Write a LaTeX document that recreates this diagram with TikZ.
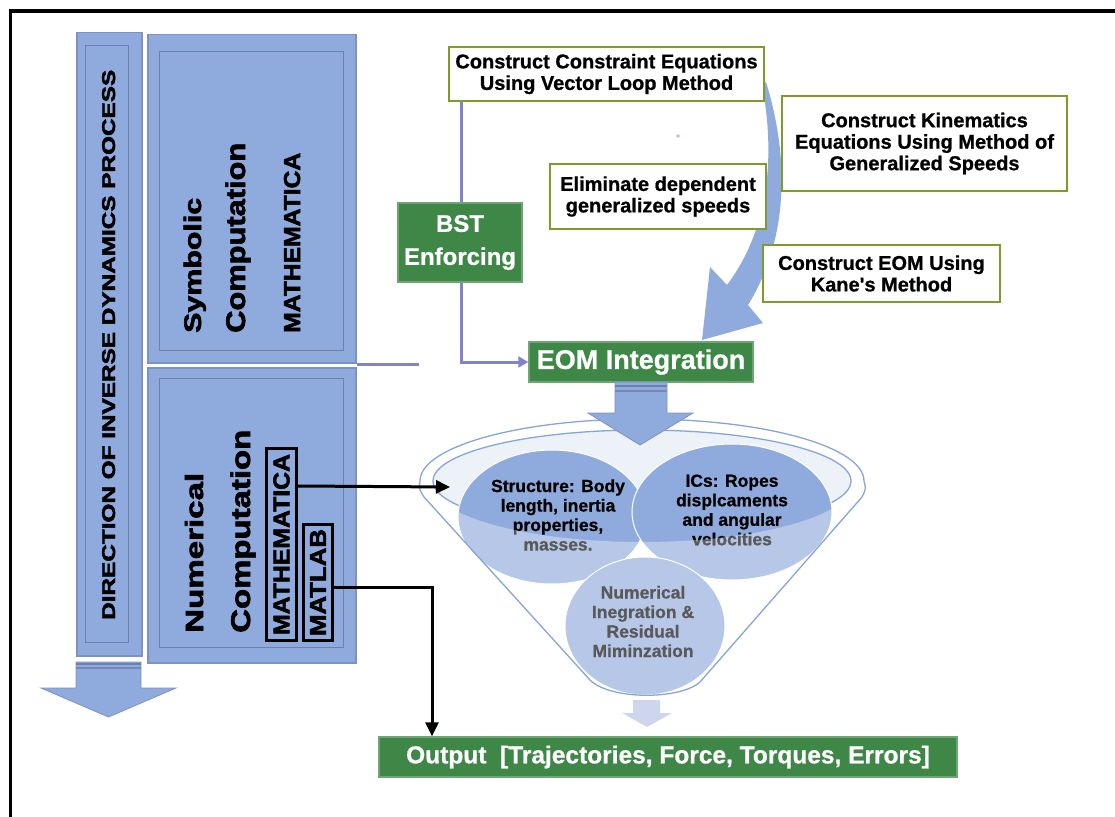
\documentclass[tikz,border=0pt]{standalone}
\usepackage{fontspec}
\setmainfont{Liberation Sans}[Ligatures=TeXOff, BoldFeatures={FakeBold=0.8}]
\newfontfamily\heavyfont{Liberation Sans}[Ligatures=TeXOff, BoldFeatures={FakeBold=2.2}]
\usepackage{graphicx}
\usetikzlibrary{arrows.meta,calc}
\definecolor{panel}{RGB}{143,170,220}
\definecolor{panelborder}{RGB}{125,145,195}
\definecolor{panelinner}{RGB}{110,128,172}
\definecolor{boxgreen}{RGB}{62,135,71}
\definecolor{olive}{RGB}{128,155,40}
\definecolor{lav}{RGB}{130,130,205}
\definecolor{rimfill}{RGB}{237,241,248}
\definecolor{lightarrow}{RGB}{205,214,236}
\definecolor{rimline}{RGB}{135,165,218}
\tikzset{
  stepbox/.style={draw=olive, line width=2pt, fill=white, align=center, inner sep=0pt,
    font=\fontsize{20}{21.5}\selectfont\bfseries},
  greenbox/.style={fill=boxgreen, draw=boxgreen!75!white, line width=1.5pt, text=white, align=center, inner sep=0pt},
  panelbox/.style={fill=panel, draw=panelborder, line width=1.5pt, anchor=north west, inner sep=0pt},
  innerbox/.style={draw=panelinner, line width=1.2pt, anchor=north west, inner sep=0pt},
  vtext/.style={rotate=90, anchor=base west, inner sep=0pt, font=\heavyfont\bfseries},
  toolbox/.style={draw=black, line width=3pt, rotate=90, inner sep=0pt, font=\heavyfont\bfseries},
  pline/.style={draw=lav, line width=3pt},
  bline/.style={draw=black, line width=3pt},
  circ/.style={fill=panel, draw=white, line width=1pt},
  ctext/.style={align=center, inner sep=0pt, font=\fontsize{17.5}{19.5}\selectfont\bfseries},
  blockarrow/.style={fill=panel, draw=panelborder, line width=0.8pt},
  rim/.style={draw=rimline, line width=1.3pt}
}
\begin{document}
\begin{tikzpicture}[x=1pt,y=-1pt]
\useasboundingbox (0,0) rectangle (1115,816);
% frame
\draw[line width=3.5pt] (10.5,830) -- (10.5,11) -- (1130,11);

% left panels
\node[panelbox, minimum width=65, minimum height=623] (dirpanel) at (76,32) {};
\node[innerbox, minimum width=43, minimum height=597] (dirinner) at (85,45) {};
\node[panelbox, minimum width=208, minimum height=328] (symb) at (147,34) {};
\node[innerbox, minimum width=184, minimum height=299] (symbinner) at (159,51) {};
\node[panelbox, minimum width=208, minimum height=295] (numer) at (147,367) {};
\node[innerbox, minimum width=184, minimum height=269] (numerinner) at (159,378) {};

% direction arrow
\path[blockarrow] (76,662) -- (141,662) -- (141,688) -- (176,688) -- (108.5,717) -- (41,688) -- (76,688) -- cycle;
\fill[panelinner] (76,662.5) rectangle (141,664.5);
\fill[panelinner!80!panel] (76,667) rectangle (141,669);

% vertical texts
\node[vtext] (dirtext) at (115,620) {\resizebox{550pt}{\height}{\fontsize{18.5}{18.5}\selectfont DIRECTION OF INVERSE DYNAMICS PROCESS}};
\node[vtext] (symbolic) at (201,333) {\resizebox{135pt}{\height}{\fontsize{24}{24}\selectfont Symbolic}};
\node[vtext] (compsym) at (245,333) {\resizebox{190pt}{\height}{\fontsize{27}{27}\selectfont Computation}};
\node[vtext] (mathsym) at (300,333) {\resizebox{180pt}{\height}{\fontsize{23}{23}\selectfont MATHEMATICA}};
\node[vtext] (numerical) at (203,633) {\resizebox{160pt}{\height}{\fontsize{25}{25}\selectfont Numerical}};
\node[vtext] (compnum) at (250,633) {\resizebox{203pt}{\height}{\fontsize{27}{27}\selectfont Computation}};
\node[toolbox, minimum width=192, minimum height=30] (mathbox) at (281.5,544.5) {\resizebox{181pt}{\height}{\fontsize{23}{23}\selectfont MATHEMATICA}};
\node[toolbox, minimum width=116, minimum height=29] (matlab) at (318,582.5) {\resizebox{107pt}{\height}{\fontsize{23}{23}\selectfont MATLAB}};

% big curved arrow
\fill[panel] (762,84) .. controls (776,160) and (768,230) .. (727,285) -- (710,267) -- (702,340) -- (763,323) -- (748,305) .. controls (788,240) and (790,160) .. (766,82) -- cycle;
\fill[lav!55] (678,136) circle (1.8);

% step boxes
\node[stepbox, minimum width=315, minimum height=54] (constraint) at (606.5,74) {Construct Constraint Equations\\Using Vector Loop Method};
\node[stepbox, minimum width=285, minimum height=95] (kinematics) at (924.5,143.5) {Construct Kinematics\\Equations Using Method of\\Generalized Speeds};
\node[stepbox, minimum width=216, minimum height=65] (eliminate) at (658,196.5) {Eliminate dependent\\generalized speeds};
\node[stepbox, minimum width=237, minimum height=57] (kane) at (881.5,273.5) {Construct EOM Using\\Kane's Method};

\node[greenbox, minimum width=224, minimum height=40, font=\fontsize{27}{27}\selectfont\bfseries] (eom) at (641,362) {EOM Integration};

% purple connectors
\coordinate (bstx) at (461,0);
\coordinate (stubend) at (419,364);
\draw[pline, -{Triangle[length=10pt,width=11pt]}] (constraint.south -| bstx) |- (eom.west);
\draw[pline] (symb.south east |- stubend) -- (stubend);

\node[greenbox, minimum width=124, minimum height=79, font=\fontsize{24}{33}\selectfont\bfseries] (bst) at (460,242.5) {BST\\Enforcing};

% funnel rim
\fill[rimfill] (642,481) ellipse [x radius=209, y radius=51];
\draw[rim] (642,481) ellipse [x radius=209, y radius=51];

% circles
\path[circ] (552,517) ellipse [x radius=94, y radius=67];
\path[circ] (732,512) ellipse [x radius=100, y radius=68];
\node[ctext] (structtext) at (558,515) {Structure: Body\\length, inertia\\properties,\\masses.};
\node[ctext] (icstext) at (732,510) {ICs: Ropes\\displcaments\\and angular\\velocities};
\path[circ] (645,626) ellipse [x radius=80, y radius=69];
\node[ctext] (numtext) at (643,621.5) {Numerical\\Inegration \&\\Residual\\Miminzation};

% translucent front of funnel
\fill[white, opacity=0.35] (430,482) arc[start angle=180, end angle=0, x radius=212, y radius=60] -- (854,702) -- (430,702) -- cycle;

% funnel outline
\draw[rim] (864,481) arc[start angle=0, end angle=-180, x radius=222, y radius=62]
  .. controls (419,489) .. (424,497) -- (590,680)
  .. controls (610,700) and (680,700) .. (700,682) -- (862,497)
  .. controls (866,489) .. (864,481);

% arrow from EOM into funnel
\path[blockarrow] (615,382) -- (667,382) -- (667,413) -- (693,413) -- (640,445) -- (588,413) -- (615,413) -- cycle;
\fill[panelinner] (615,385) rectangle (667,387);
\fill[panelinner!80!panel] (615,390) rectangle (667,392);

% small arrow below funnel
\fill[lightarrow] (633,700) -- (660,700) -- (660,713) -- (672,713) -- (647,727) -- (622,713) -- (633,713) -- cycle;

\node[greenbox, minimum width=578, minimum height=40, font=\fontsize{24.5}{24.5}\selectfont\bfseries] (output) at (668,757) {Output\ \ [Trajectories, Force, Torques, Errors]};

% black connectors
\coordinate (rimtip) at (450,487);
\coordinate (mlx) at (432,0);
\draw[bline, -{Triangle[length=14pt,width=13pt]}] ($(mathbox.south west)!0.8!(mathbox.south east)$) -- (rimtip);
\draw[bline, -{Triangle[length=14pt,width=13pt]}] ($(matlab.south west)!0.46!(matlab.south east)$) -| (output.north -| mlx);
\end{tikzpicture}
\end{document}
